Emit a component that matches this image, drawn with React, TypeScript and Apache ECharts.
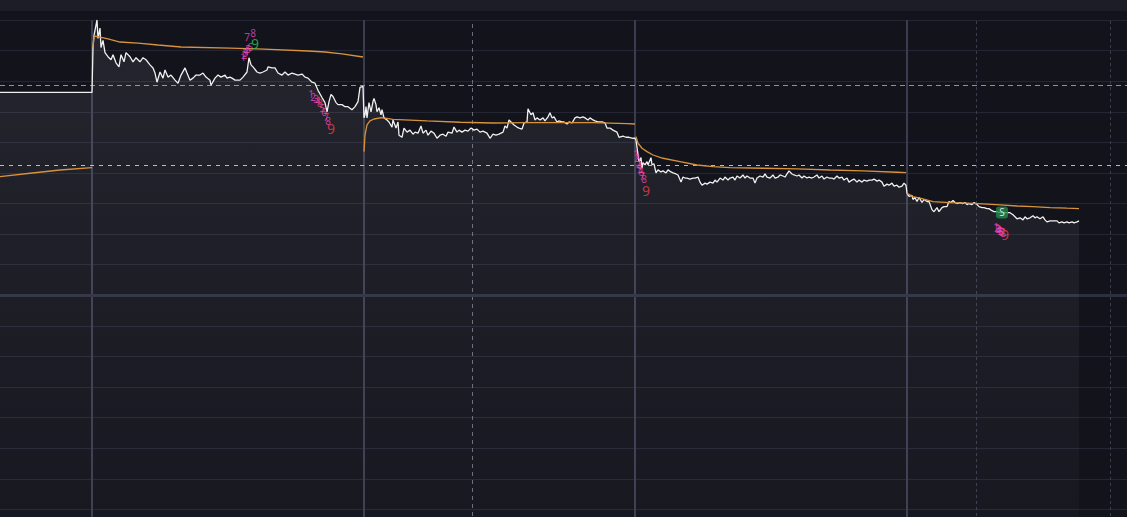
import React, { useEffect, useRef } from "react";
import * as echarts from "echarts";

// ---- session boundaries (bar index) ----
const dayStarts = [0, 92, 364, 635, 907];
const sessionMarks = [976, 1110];

// ---- crosshair / reference prices ----
const crosshairTime = 472;
const crosshairPrice = 12.063;
const prevClose = 11.278;
const paneSplitPrice = 10.0;

// ---- price (last) by day : [bar, price] ----
const day0Price: [number, number][] = [[0, 11.99], [92, 11.99]];
const day1Price: [number, number][] = [
  [93, 12.43], [94, 12.55], [97, 12.7], [98, 12.52], [100, 12.62], [101, 12.43], [103, 12.5], [105, 12.38],
  [108, 12.34], [111, 12.31], [113, 12.36], [116, 12.28], [119, 12.24], [121, 12.36], [124, 12.29], [126, 12.38],
  [130, 12.34], [133, 12.29], [136, 12.33], [140, 12.29], [143, 12.33], [146, 12.31], [150, 12.26], [153, 12.23],
  [155, 12.18], [157, 12.09], [160, 12.19], [163, 12.13], [165, 12.21], [168, 12.14], [171, 12.16], [175, 12.11],
  [178, 12.08], [181, 12.16], [185, 12.23], [187, 12.18], [190, 12.11], [193, 12.13], [196, 12.16], [200, 12.16],
  [203, 12.18], [206, 12.14], [210, 12.11], [211, 12.06], [215, 12.13], [218, 12.16], [221, 12.14], [225, 12.16],
  [227, 12.13], [230, 12.14], [232, 12.13], [235, 12.11], [240, 12.11], [243, 12.14], [247, 12.19], [249, 12.33],
  [251, 12.26], [253, 12.24], [257, 12.19], [260, 12.18], [263, 12.19], [267, 12.21], [268, 12.24], [272, 12.23],
  [275, 12.23], [278, 12.18], [282, 12.16], [285, 12.19], [288, 12.16], [292, 12.18], [295, 12.17], [298, 12.16],
  [302, 12.17], [305, 12.14], [308, 12.13], [312, 12.09], [315, 12.08], [318, 12.01], [322, 11.94], [325, 11.89],
  [327, 11.8], [329, 11.9], [331, 11.97], [333, 11.95], [336, 11.89], [338, 11.87], [342, 11.87], [345, 11.85],
  [348, 11.85], [352, 11.82], [355, 11.85], [358, 11.9], [360, 12.04], [363, 12.05],
];
const day2Price: [number, number][] = [
  [364, 11.74], [365, 11.77], [366, 11.85], [367, 11.74], [369, 11.89], [371, 11.8], [373, 11.9], [374, 11.93],
  [376, 11.87], [377, 11.8], [379, 11.84], [381, 11.77], [382, 11.82], [384, 11.74], [387, 11.72], [389, 11.7],
  [392, 11.65], [393, 11.72], [396, 11.64], [398, 11.7], [399, 11.57], [402, 11.55], [404, 11.64], [407, 11.6],
  [410, 11.62], [413, 11.58], [415, 11.6], [418, 11.59], [421, 11.66], [423, 11.59], [426, 11.62], [428, 11.57],
  [431, 11.61], [434, 11.59], [437, 11.54], [440, 11.57], [443, 11.58], [446, 11.56], [448, 11.6], [452, 11.59],
  [454, 11.65], [457, 11.6], [459, 11.62], [462, 11.6], [465, 11.62], [468, 11.61], [471, 11.64], [474, 11.62],
  [477, 11.63], [480, 11.6], [483, 11.61], [487, 11.59], [490, 11.54], [493, 11.58], [496, 11.57], [499, 11.58],
  [503, 11.6], [505, 11.66], [507, 11.64], [509, 11.72], [512, 11.69], [514, 11.67], [517, 11.65], [519, 11.64],
  [522, 11.63], [524, 11.69], [527, 11.7], [528, 11.83], [531, 11.77], [533, 11.79], [535, 11.72], [537, 11.74],
  [540, 11.72], [543, 11.74], [545, 11.71], [548, 11.75], [550, 11.79], [552, 11.74], [554, 11.75], [557, 11.7],
  [559, 11.71], [562, 11.7], [564, 11.7], [567, 11.68], [569, 11.7], [572, 11.69], [575, 11.74], [577, 11.75],
  [580, 11.74], [583, 11.75], [585, 11.74], [588, 11.72], [590, 11.74], [593, 11.72], [595, 11.71], [598, 11.7],
  [602, 11.7], [605, 11.69], [607, 11.64], [610, 11.64], [613, 11.62], [617, 11.6], [619, 11.55], [623, 11.56],
  [626, 11.55], [629, 11.55], [633, 11.54], [635, 11.54],
];
const day3Price: [number, number][] = [
  [636, 11.52], [637, 11.45], [639, 11.31], [641, 11.35], [642, 11.25], [643, 11.3], [645, 11.28], [647, 11.31],
  [648, 11.28], [651, 11.35], [652, 11.28], [654, 11.29], [656, 11.2], [658, 11.23], [661, 11.21], [663, 11.22],
  [666, 11.2], [668, 11.23], [671, 11.21], [673, 11.2], [676, 11.19], [678, 11.18], [681, 11.11], [683, 11.16],
  [685, 11.15], [687, 11.15], [690, 11.14], [693, 11.15], [695, 11.15], [698, 11.16], [700, 11.11], [702, 11.08],
  [705, 11.1], [707, 11.09], [710, 11.11], [713, 11.1], [715, 11.13], [717, 11.11], [720, 11.15], [723, 11.13],
  [725, 11.16], [728, 11.13], [730, 11.15], [733, 11.16], [735, 11.13], [737, 11.17], [740, 11.15], [743, 11.18],
  [745, 11.15], [747, 11.17], [750, 11.15], [753, 11.15], [755, 11.1], [757, 11.15], [760, 11.17], [763, 11.16],
  [765, 11.19], [767, 11.16], [770, 11.15], [773, 11.18], [775, 11.15], [778, 11.16], [780, 11.18], [783, 11.17],
  [785, 11.16], [787, 11.19], [789, 11.22], [792, 11.19], [794, 11.18], [797, 11.17], [799, 11.18], [802, 11.15],
  [804, 11.17], [807, 11.15], [809, 11.16], [812, 11.15], [814, 11.16], [817, 11.18], [819, 11.15], [822, 11.17],
  [824, 11.14], [827, 11.16], [829, 11.15], [832, 11.15], [834, 11.14], [837, 11.17], [839, 11.15], [842, 11.16],
  [844, 11.13], [847, 11.15], [849, 11.11], [852, 11.13], [854, 11.14], [857, 11.11], [859, 11.13], [862, 11.11],
  [864, 11.13], [867, 11.12], [869, 11.13], [872, 11.13], [874, 11.14], [877, 11.12], [879, 11.13], [882, 11.11],
  [884, 11.07], [887, 11.09], [889, 11.08], [892, 11.1], [894, 11.07], [897, 11.08], [899, 11.06], [902, 11.07],
  [904, 11.1], [906, 11.08],
];
const day4Price: [number, number][] = [
  [907, 11.0], [909, 10.97], [912, 10.98], [913, 10.94], [915, 10.96], [917, 10.92], [919, 10.96], [922, 10.91],
  [924, 10.94], [927, 10.92], [929, 10.92], [932, 10.84], [934, 10.82], [937, 10.86], [939, 10.82], [942, 10.86],
  [944, 10.87], [947, 10.87], [949, 10.92], [951, 10.91], [953, 10.93], [955, 10.91], [957, 10.9], [960, 10.91],
  [963, 10.9], [965, 10.91], [967, 10.89], [969, 10.9], [972, 10.89], [974, 10.91], [977, 10.89], [979, 10.87],
  [982, 10.86], [984, 10.86], [987, 10.85], [989, 10.85], [992, 10.83], [994, 10.82], [997, 10.82], [1000, 10.81],
  [1004, 10.81], [1007, 10.81], [1010, 10.81], [1013, 10.79], [1015, 10.77], [1017, 10.75], [1020, 10.76],
  [1023, 10.74], [1025, 10.77], [1027, 10.75], [1030, 10.76], [1033, 10.78], [1035, 10.76], [1037, 10.77],
  [1040, 10.75], [1043, 10.77], [1045, 10.74], [1047, 10.72], [1050, 10.73], [1053, 10.73], [1057, 10.73],
  [1059, 10.71], [1062, 10.72], [1064, 10.71], [1067, 10.72], [1069, 10.71], [1072, 10.72], [1074, 10.71],
  [1077, 10.72], [1079, 10.73],
];

// ---- VWAP by day ----
const day0Vwap: [number, number][] = [[0, 11.164], [30, 11.197], [60, 11.229], [92, 11.252]];
const day1Vwap: [number, number][] = [
  [93, 12.435], [94, 12.543], [100, 12.533], [108, 12.514], [120, 12.484], [138, 12.474], [158, 12.455],
  [181, 12.435], [230, 12.425], [258, 12.416], [308, 12.396], [325, 12.386], [342, 12.367], [363, 12.337],
];
const day2Vwap: [number, number][] = [
  [364, 11.409], [365, 11.572], [367, 11.671], [370, 11.71], [374, 11.729], [382, 11.742], [393, 11.726],
  [427, 11.71], [460, 11.697], [493, 11.69], [527, 11.693], [560, 11.693], [593, 11.693], [627, 11.683], [635, 11.68],
];
const day3Vwap: [number, number][] = [
  [636, 11.556], [638, 11.491], [642, 11.442], [647, 11.409], [653, 11.376], [663, 11.344], [680, 11.311],
  [697, 11.278], [713, 11.262], [730, 11.252], [763, 11.246], [797, 11.239], [830, 11.229], [863, 11.22],
  [897, 11.207], [906, 11.203],
];
const day4Vwap: [number, number][] = [
  [907, 11.001], [913, 10.968], [920, 10.952], [933, 10.919], [950, 10.909], [967, 10.903], [983, 10.896],
  [1000, 10.886], [1017, 10.876], [1033, 10.87], [1050, 10.86], [1067, 10.854], [1079, 10.85],
];

// ---- TD sequential counts ----
const tdTimes = [
  243, 244, 245, 246, 248, 250, 247, 253, 255,
  311, 313, 316, 318, 322, 324, 326, 328, 320, 331,
  636, 637, 638, 639, 640, 641, 642, 644, 646,
  996, 997, 998, 999, 1000, 1001, 1002, 1003, 1005,
];
const tdPrices = [
  12.337, 12.357, 12.377, 12.396, 12.416, 12.435, 12.533, 12.573, 12.465,
  11.975, 11.945, 11.926, 11.906, 11.838, 11.798, 11.749, 11.71, 11.887, 11.632,
  11.387, 11.348, 11.308, 11.269, 11.24, 11.21, 11.171, 11.142, 11.024,
  10.671, 10.662, 10.652, 10.642, 10.632, 10.622, 10.622, 10.613, 10.593,
];
const tdTexts = [
  "1", "2", "3", "4", "5", "6", "7", "8", "9",
  "1", "2", "3", "4", "5", "6", "7", "8", "8", "9",
  "1", "2", "3", "4", "5", "6", "7", "8", "9",
  "1", "2", "3", "4", "5", "6", "7", "8", "9",
];
const tdKinds = [
  "count", "count", "count", "count", "count", "count", "count", "count", "buy9",
  "count", "count", "count", "count", "count", "count", "count", "count", "sell", "sell9",
  "count", "count", "count", "count", "count", "count", "count", "count", "sell9",
  "count", "count", "count", "count", "count", "count", "count", "count", "sell9",
];

// ---- signal ----
const signalTimes = [1002];
const signalPrices = [10.813];
const signalTexts = ["S"];

const TD_STYLE: Record<string, { color: string; size: number }> = {
  count: { color: "#ee45bb", size: 10 },
  sell: { color: "#ee3b4a", size: 11 },
  sell9: { color: "#ee3b4a", size: 14 },
  buy9: { color: "#22c55e", size: 14 },
};

export default function App() {
  const ref = useRef<HTMLDivElement>(null);

  useEffect(() => {
    if (!ref.current) return;
    const chart = echarts.init(ref.current, undefined, { renderer: "svg" });

    const priceData = [...day0Price, ...day1Price, ...day2Price, ...day3Price, ...day4Price];
    const vwapDays = [day0Vwap, day1Vwap, day2Vwap, day3Vwap, day4Vwap];

    const vLines: any[] = [
      ...dayStarts.slice(1).map((t) => ({
        xAxis: t,
        lineStyle: { color: "#393d4f", width: 2, type: "solid" },
      })),
      ...sessionMarks.map((t) => ({
        xAxis: t,
        lineStyle: { color: "#3a3d4f", width: 1, type: [3, 3] },
      })),
      { xAxis: crosshairTime, lineStyle: { color: "#6a6d78", width: 1, type: [4, 4] } },
      { yAxis: paneSplitPrice, lineStyle: { color: "#2c2f3d", width: 3, type: "solid" } },
      { yAxis: crosshairPrice, lineStyle: { color: "#8e919b", width: 1, type: [5, 4] } },
      { yAxis: prevClose, lineStyle: { color: "#e3c034", width: 1, type: [4, 5] } },
    ];

    const series: any[] = [
      {
        type: "line",
        name: "price",
        data: priceData,
        showSymbol: false,
        symbol: "none",
        lineStyle: { color: "#f0f0f0", width: 1.3 },
        areaStyle: {
          origin: "start",
          color: new echarts.graphic.LinearGradient(0, 0, 0, 1, [
            { offset: 0, color: "rgba(215,217,228,0.13)" },
            { offset: 1, color: "rgba(215,217,228,0.03)" },
          ]),
        },
        z: 3,
        markLine: {
          silent: true,
          symbol: ["none", "none"],
          label: { show: false },
          data: vLines,
          z: 2,
        },
      },
      ...vwapDays.map((d) => ({
        type: "line",
        data: d,
        showSymbol: false,
        symbol: "none",
        lineStyle: { color: "#d8923d", width: 1.3 },
        z: 4,
      })),
      {
        type: "scatter",
        data: tdTimes.map((t, i) => ({
          value: [t, tdPrices[i]],
          label: {
            show: true,
            formatter: tdTexts[i],
            color: TD_STYLE[tdKinds[i]].color,
            fontSize: TD_STYLE[tdKinds[i]].size,
          },
        })),
        symbolSize: 1,
        itemStyle: { color: "transparent" },
        label: { show: true, position: "inside", fontFamily: "Noto Sans" },
        z: 6,
      },
      {
        type: "scatter",
        data: signalTimes.map((t, i) => ({
          value: [t, signalPrices[i]],
          label: { show: true, formatter: signalTexts[i] },
        })),
        symbol: "roundRect",
        symbolSize: [12, 12],
        itemStyle: { color: "#1e8a49" },
        label: {
          show: true,
          position: "inside",
          color: "#ffffff",
          fontSize: 10,
          fontFamily: "Noto Sans",
        },
        z: 7,
      },
    ];

    chart.setOption({
      animation: false,
      backgroundColor: "#12131b",
      grid: { left: 0, right: 0, top: 20, bottom: 0, containLabel: false },
      xAxis: {
        type: "value",
        min: 0,
        max: 1127,
        show: false,
        splitLine: { show: false },
      },
      yAxis: {
        type: "value",
        min: 7.6,
        max: 12.7,
        interval: 0.3,
        axisLine: { show: false },
        axisTick: { show: false },
        axisLabel: { show: false },
        splitLine: { show: true, lineStyle: { color: "#242733", width: 1 } },
      },
      graphic: [
        {
          type: "rect",
          shape: { x: 0, y: 0, width: 1127, height: 11 },
          style: { fill: "#1b1e27" },
          z: 100,
        },
      ],
      series,
    });

    return () => chart.dispose();
  }, []);

  return (
    <div
      style={{
        position: "fixed",
        left: 0,
        top: 0,
        width: 1127,
        height: 517,
        overflow: "hidden",
        background: "#12131b",
      }}
    >
      <div ref={ref} style={{ width: 1127, height: 540 }} />
    </div>
  );
}
